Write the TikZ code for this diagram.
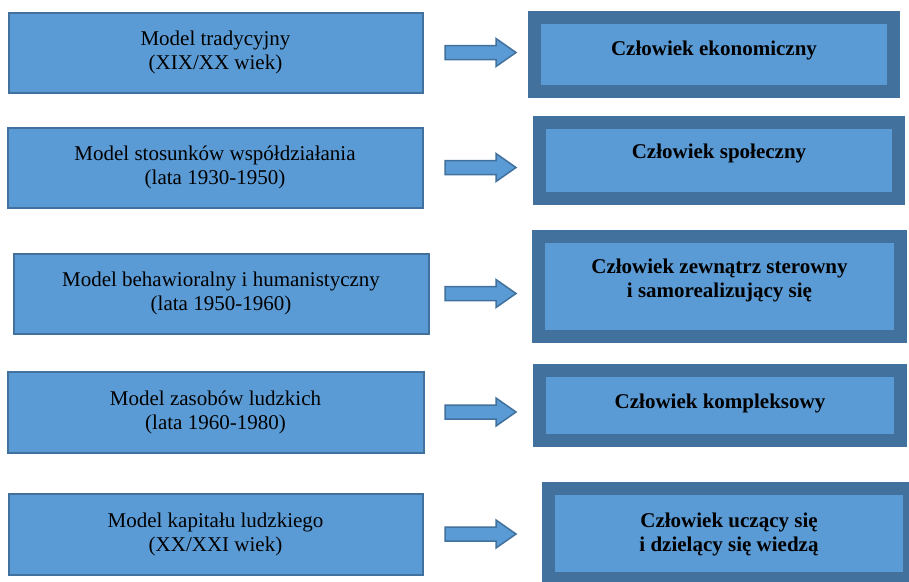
\documentclass[tikz,border=0pt]{standalone}
\usepackage{fontspec}
\setmainfont{Liberation Serif}
\usetikzlibrary{calc}
\definecolor{lightblue}{HTML}{5B9BD5}
\definecolor{darkblue}{HTML}{41719C}
\newcommand\blockarrow[1]{%
  \draw[arrowbox] let \p1=(#1.center) in
    (445pt,\y1+7pt) -- (496pt,\y1+7pt) -- (496pt,\y1+14pt) -- (516pt,\y1)
    -- (496pt,\y1-14pt) -- (496pt,\y1-7pt) -- (445pt,\y1-7pt) -- cycle;}
\begin{document}
\begin{tikzpicture}[x=1pt,y=-1pt,
  modelbox/.style={draw=darkblue, line width=2pt, fill=lightblue, inner sep=0pt,
    align=center, font=\fontsize{21}{24}\selectfont},
  humanbox/.style={draw=darkblue, line width=13pt, fill=lightblue, inner sep=0pt},
  humantext/.style={align=center, inner sep=0pt, font=\fontsize{21}{24}\selectfont\bfseries},
  arrowbox/.style={draw=darkblue, line width=1.5pt, fill=lightblue, line join=miter}]
\useasboundingbox (0,0) rectangle (909,581);
\fill[white] (0,0) rectangle (909,581);

% left model boxes
\node[modelbox, minimum width=414, minimum height=80] (m1) at (215.5,52.5) {Model tradycyjny\\(XIX/XX wiek)};
\node[modelbox, minimum width=415, minimum height=80] (m2) at (215,167.5) {Model stosunków współdziałania\\(lata 1930-1950)};
\node[modelbox, minimum width=415, minimum height=80] (m3) at (221,293.5) {Model behawioralny i humanistyczny\\(lata 1950-1960)};
\node[modelbox, minimum width=416, minimum height=81] (m4) at (215.5,412) {Model zasobów ludzkich\\(lata 1960-1980)};
\node[modelbox, minimum width=414, minimum height=81] (m5) at (215.5,534) {Model kapitału ludzkiego\\(XX/XXI wiek)};

% right human boxes
\node[humanbox, minimum width=359, minimum height=74] (c1) at (714,54.5) {};
\node[humanbox, minimum width=359, minimum height=76] (c2) at (719,160.5) {};
\node[humanbox, minimum width=362, minimum height=100] (c3) at (719.5,286.5) {};
\node[humanbox, minimum width=361, minimum height=70] (c4) at (720,405.5) {};
\node[humanbox, minimum width=361, minimum height=90] (c5) at (729,533.5) {};

\node[humantext] (t1) at (714,50) {Człowiek ekonomiczny};
\node[humantext] (t2) at (719,153) {Człowiek społeczny};
\node[humantext] (t3) at (719.5,280) {Człowiek zewnątrz sterowny\\i samorealizujący się};
\node[humantext] (t4) at (720,403) {Człowiek kompleksowy};
\node[humantext] (t5) at (729,534.5) {Człowiek uczący się\\i dzielący się wiedzą};

% block arrows
\blockarrow{m1}
\blockarrow{m2}
\blockarrow{m3}
\blockarrow{m4}
\blockarrow{m5}
\end{tikzpicture}
\end{document}
